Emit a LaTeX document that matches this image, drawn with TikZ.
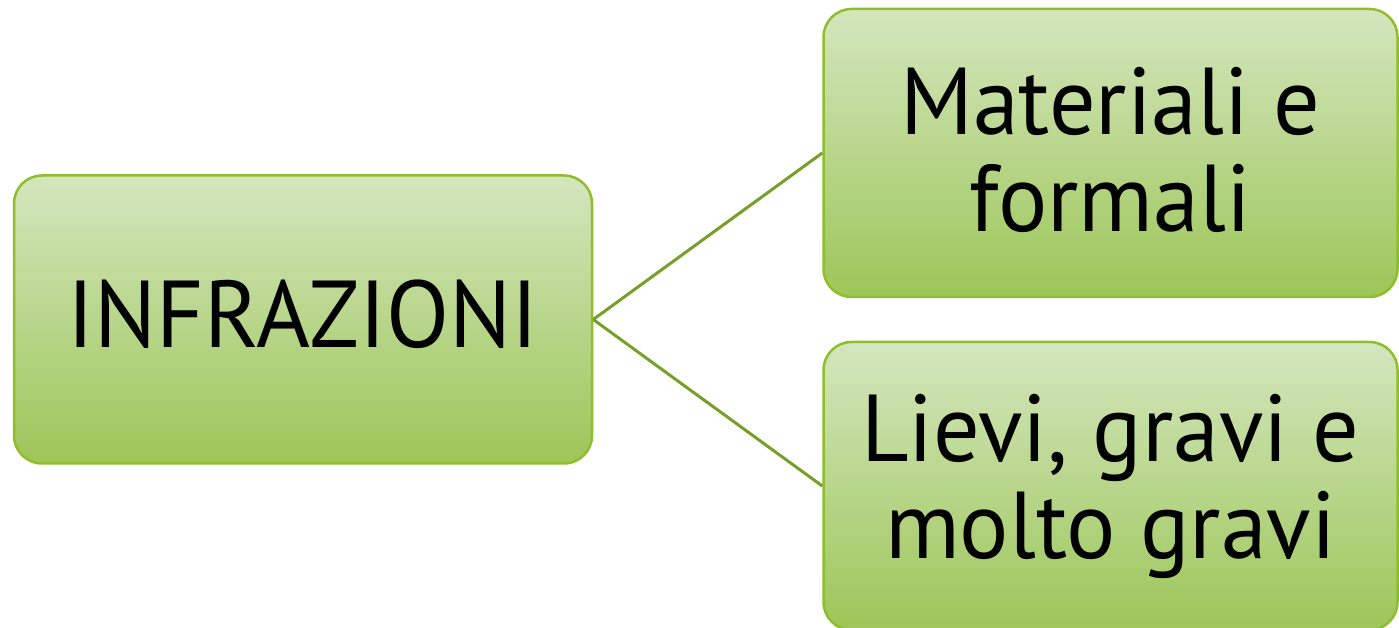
\documentclass[tikz,border=0pt]{standalone}
\usepackage{fontspec}
\setmainfont{PT Sans}[FakeStretch=0.97]
\definecolor{gtop}{RGB}{212,230,190}
\definecolor{gbot}{RGB}{157,198,88}
\definecolor{boxline}{RGB}{143,190,45}
\definecolor{conn}{RGB}{118,160,40}
\begin{document}
\begin{tikzpicture}[x=1pt,y=1pt,
  box/.style={draw=boxline, line width=2.5pt, rounded corners=28pt,
    top color=gtop, bottom color=gbot, minimum width=578pt, minimum height=288pt,
    inner sep=0pt, align=center, font=\fontsize{95}{97}\selectfont, text=black},
  link/.style={draw=conn, line width=3pt}]
\useasboundingbox (0,0) rectangle (1399,628);
\node[box, text depth=12pt] (a) at (303,308.5) {INFRAZIONI};
\node[box, minimum width=574pt, text depth=8pt] (b) at (1110.5,475) {Materiali e\\formali};
\node[box, minimum width=574pt] (c) at (1110.5,142) {Lievi, gravi e\\molto gravi};
\draw[link] (a.east) -- (b.west);
\draw[link] (a.east) -- (c.west);
\end{tikzpicture}
\end{document}
